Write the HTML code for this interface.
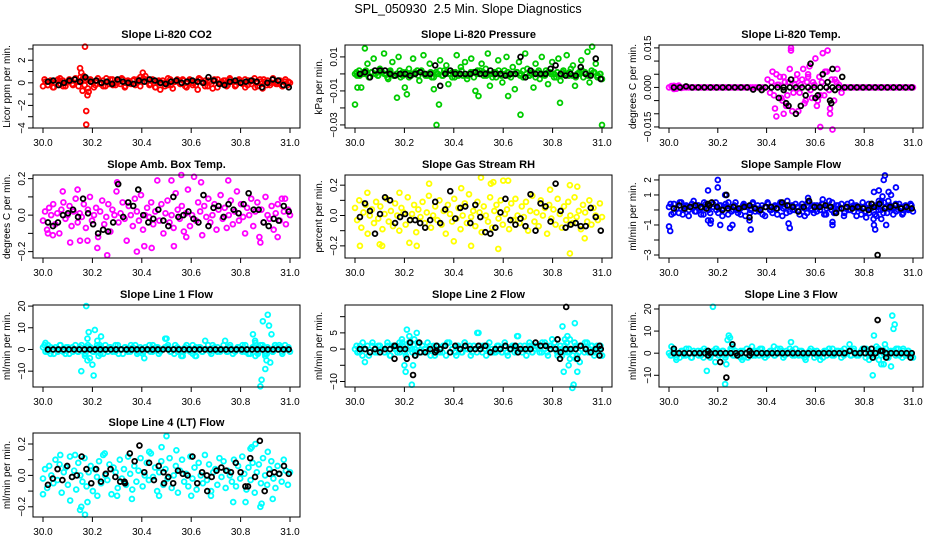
<!DOCTYPE html>
<html><head><meta charset="utf-8">
<style>
html,body{margin:0;padding:0;background:#fff;}
svg{display:block;font-family:"Liberation Sans",Arial,sans-serif;}
</style></head>
<body>
<svg id="chart" width="936" height="540" viewBox="0 0 936 540">
<text x="468" y="13" text-anchor="middle" font-size="12.5">SPL_050930&#160;&#160;2.5 Min. Slope Diagnostics</text>
</svg>
<script>
// ---------- data ----------
const xTicks = [30.0, 30.2, 30.4, 30.6, 30.8, 31.0];
const xTickLabels = ["30.0", "30.2", "30.4", "30.6", "30.8", "31.0"];

// Panel 1: Li-820 CO2 (ppm/min)
const co2Main = [-0.3,0.1,-0.2,0.2,-0.4,0.0,0.3,-0.1,0.2,-0.3,0.1,0.2,-0.2,0.3,0.1,0.5,0.4,0.2,-0.5,0.3,0.0,-0.2,0.4,-0.1,0.2,-0.3,0.1,0.3,-0.2,0.0,0.2,-0.1,0.3,-0.3,0.1,0.0,0.2,-0.2,0.3,0.5,0.9,0.6,0.3,-0.1,0.2,-0.4,0.1,-0.6,0.2,0.0,-0.2,0.3,-0.5,0.1,0.2,-0.1,0.3,-0.3,0.0,0.2,-0.2,0.1,-0.6,0.3,0.0,0.2,-0.3,0.1,-0.5,0.2,0.3,-0.1,0.0,0.2,-0.2,0.3,0.1,-0.3,0.2,0.0,-0.1,0.3,-0.2,0.1,0.2,-0.4,0.0,0.3,-0.5,0.1,0.2,-0.2,0.3,0.0,-0.1,0.2,-0.3,0.1,-0.2,0.0];
const co2Band = [0.3,-0.2,0.1,-0.4,0.2,0.4,-0.3,0.0,0.3,-0.1,0.4,-0.3,0.2,-0.2,0.3,0.1,-0.4,0.2,0.0,-0.3,0.4,-0.1,0.3,-0.2,0.1,0.4,-0.4,0.2,-0.1,0.3,0.0,-0.3,0.4,0.1,-0.2,0.3,-0.4,0.2,0.0,-0.3,0.4,-0.2,0.1,0.3,-0.1,0.2,-0.4,0.3,0.0,-0.2,0.4,0.1,-0.3,0.2,-0.1,0.3,-0.4,0.0,0.2,-0.3,0.4,0.1,-0.2,0.3,0.0,-0.4,0.2,-0.1,0.4,-0.3,0.1,0.3,-0.2,0.0,0.4,-0.1,0.2,-0.3,0.3,0.1];
const co2ExtraX = [30.17,30.175,30.175,30.15,30.18,30.165,30.155,30.16,30.185];
const co2ExtraY = [3.2,-2.5,-3.7,1.3,-1.1,0.6,0.9,-0.7,-0.8];
const co2Black = [0.1,0.2,-0.2,0.0,0.2,0.3,0.1,0.5,0.1,0.2,0.0,0.1,-0.1,0.3,0.1,0.0,-0.1,0.2,0.1,0.3,0.2,0.0,-0.1,0.1,0.2,0.0,0.1,0.2,0.1,0.0,0.5,0.2,-0.1,-0.2,0.1,0.2,0.0,0.1,0.2,0.1,-0.4,0.0,0.3,0.2,-0.2,-0.4];
const co2BlackX = [], co2BlackY = [];

// Panel 2: Li-820 Pressure (units of 0.001 kPa/min)
const presMain = [0,-1,2,-8,1,0,6,-2,1,9,0,-1,3,1,12,0,-3,2,7,-1,0,10,-2,1,-8,0,3,-1,9,0,2,-4,1,11,-1,0,6,-2,-9,1,0,8,-1,2,5,-6,0,1,-2,11,0,4,-1,7,-3,0,9,1,-10,2,0,6,-1,3,12,-7,0,1,-2,8,0,-5,2,10,-1,0,4,-9,1,7,0,-2,12,3,-1,0,-8,6,1,-3,10,0,2,-6,1,7,0,-2,9,-4,1,0,11,-1,3,5,-7,0,1,8,-2,0,13,-5,2,1,6,-1,0,-3];
const presBand = [1,-1,0,2,-2,1,0,-1,2,0,-2,1,-1,0,2,-1,1,-2,0,1,-1,2,0,-1,1,-2,0,2,-1,1,0,-2,1,-1,2,0,-1,1,-2,0,2,1,-1,0,-2,1,2,-1,0,1,-2,0,1,-1,2,0,-1,1,-2,2,0,-1,1,0,-2,1,-1,2,0,1,-1,-2,0,2,1,-1,0,1,-2,0];
const presExtraX = [30.0,30.04,30.17,30.33,30.34,30.67,30.83,30.62,30.50,31.0,30.96,30.21,30.01];
const presExtraY = [-18,15,-14,-30,-18,-24,-17,-13,-13,-30,16,-12,-8];
const presBlack = [0,1,-2,2,2,2,0,-1,0,0,-1,0,1,0,0,5,-7,0,2,0,0,0,0,1,0,0,2,0,0,-1,0,0,10,-2,2,0,0,0,3,5,0,-1,0,-1,4,0,-1,9,-3];
const presBlackX = [], presBlackY = [];

// Panel 3: Li-820 Temp (units of 0.001 degC/min)
const ltempMain = [0,0.5,-0.6,0.4,0.3,-0.2,0,0,0,0,0,0,0,0,0,0,0,0,0,0,0,0,0,0,0,0,0,0,0,0,0,0,0,0,0,0,0,0,0,0,3,-2,6,-8,1,4,-5,2,-3,7,-9,1,5,-2,3,-6,2,8,-4,1,-7,4,2,-3,6,-1,3,-5,2,1,-2,0,0,0,0,0,0,0,0,0,0,0,0,0,0,0,0,0,0,0,0,0,0,0,0,0,0,0,0,0];
const ltempBand = [];
const ltempExtraX = [30.42,30.43,30.44,30.45,30.46,30.47,30.48,30.49,30.50,30.51,30.52,30.53,30.54,30.55,30.56,30.57,30.58,30.59,30.60,30.61,30.62,30.63,30.64,30.65,30.66,30.67,30.68,30.69,30.50,30.62,30.66,30.44,30.47,30.57,30.02,30.03,30.04];
const ltempExtraY = [2,-3,5,1,-4,4,-7,2,15,-2,3,-9,1,7,-5,4,-1,2,11,-5,-15,13,6,14,-10,-16,3,7,14,-3,-8,-11,-10,5,0.6,-0.5,0.7];
const ltempBlack = [0,0,0.4,0,0,0,0,0,0,0,0,0,0,-0.8,0,0,0,0,0,0,0,0,0,0,0,0,0,0,0,0,0,0,0,0,0,0,0,0,0,0];
const ltempBlackX = [30.45,30.47,30.48,30.49,30.5,30.52,30.54,30.56,30.58,30.6,30.61,30.63,30.65,30.66,30.665,30.67,30.68,30.71,30.38];
const ltempBlackY = [-4,-1,-6,-7,3,-10,-7,-3,9,-4,-3,5,2,-5,-6,7,-1,4,-1];

// Panel 4: Amb. Box Temp (units 0.01 degC/min)
const boxMain = [-3,2,-8,4,0,6,-5,1,-10,3,7,-2,0,5,-6,2,9,-4,1,-1,6,-7,3,10,-3,0,4,-12,2,8,-5,-1,6,-9,3,0,13,-4,1,7,-2,-14,5,0,-6,9,2,-3,11,-8,0,4,-1,7,-5,2,19,-3,6,-10,1,8,-4,0,-7,12,3,-2,5,-9,1,14,-6,0,21,-3,7,2,-11,5,-1,9,-4,0,6,-8,3,11,-2,4,-7,0,8,-5,2,13,-3,6,-1,-10,4,0,9,-6,2,7,-12,3,-4,10,0,-2,5,-8,1,6,-3,9,2,-5,3,0];
const boxBand = [];
const boxExtraX = [30.02,30.04,30.11,30.15,30.18,30.22,30.26,30.3,30.38,30.41,30.44,30.53,30.52,30.56,30.58,30.64,30.75,30.88,30.95,30.98,30.08,30.14];
const boxExtraY = [-10,-11,-15,-14,-14,-18,-22,18,-20,-17,-18,-17,19,22,-12,18,19,-15,-12,9,13,14];
const boxBlack = [-4,-6,-4,0,1,3,-1,9,1,-5,-10,-8,-9,-4,17,-1,7,5,14,0,-4,-2,3,-3,-6,10,-1,0,2,-2,-4,11,-6,4,5,-1,6,3,1,6,12,3,3,-4,-6,-2,-3,5,2];
const boxBlackX = [], boxBlackY = [];

// Panel 5: Gas Stream RH (units 0.01 %/min)
const rhMain = [5,-3,10,-8,2,7,-12,0,4,-5,9,-2,6,-9,1,11,-4,3,-7,8,0,-10,5,2,-6,12,-3,1,7,-11,4,-1,9,-5,2,13,-8,0,6,-3,10,-6,3,-12,7,1,-4,11,-2,5,-9,0,8,-5,14,-1,3,-7,9,2,-11,6,0,-4,12,-8,3,7,-2,10,-6,1,4,-9,8,-3,11,0,-5,6,-1,9,-10,3,13,-4,2,-7,10,0,5,-12,7,-2,4,-6,11,1,-8,6,-3,9,0,-5,12,-1,3,-9,7,2,-4,10,-6,5,0,-3,8,-1];
const rhBand = [];
const rhExtraX = [30.02,30.1,30.11,30.22,30.25,30.3,30.4,30.47,30.51,30.55,30.56,30.58,30.6,30.62,30.87,30.87,30.9,30.93,30.05,30.18,30.43,30.79];
const rhExtraY = [-20,-19,-20,-18,-20,21,-17,-20,25,21,22,-22,23,23,-25,20,19,-15,15,15,18,17];
const rhBlack = [-1,8,3,-12,1,12,10,-5,-1,1,-3,-3,-5,-8,-3,9,-5,4,16,-2,5,6,-5,7,-1,-11,-12,-8,2,11,-3,-6,-2,-7,14,-10,8,6,-4,21,3,-8,-6,-5,-7,-7,5,-1,-10];
const rhBlackX = [], rhBlackY = [];

// Panel 6: Sample Flow (ml/min per min)
const sfMain = [0.2,-0.3,0.4,0.1,-0.2,0.5,0.0,0.3,-0.4,0.2,0.6,-0.1,0.3,0.1,-0.3,0.4,0.0,-0.7,0.2,0.5,-0.2,0.3,0.1,0.4,-0.3,0.2,0.0,0.5,-0.2,0.1,0.3,-0.4,0.2,0.0,0.4,-0.1,0.3,0.1,-0.3,0.2,0.5,0.0,-0.2,0.3,0.1,0.4,-0.4,0.2,0.6,-0.1,0.3,0.0,0.2,-0.3,0.4,0.1,-0.2,0.5,0.0,0.3,-0.1,0.2,0.4,-0.3,0.1,0.6,0.0,-0.2,0.3,0.1,0.4,-0.4,0.2,0.0,0.5,-0.1,0.3,0.1,-0.3,0.2,-0.5,0.4,0.1,-0.6,0.3,0.0,0.5,-0.2,0.2,0.6,0.1,-0.3,0.4,0.0,0.2,-0.2,0.3,0.1,0.4,-0.1];
const sfBand = [0.4,-0.2,0.1,0.5,-0.3,0.2,0.0,0.4,-0.1,0.3,-0.3,0.5,0.1,-0.2,0.4,0.0,0.3,-0.4,0.2,0.5,-0.1,0.3,0.0,-0.3,0.4,0.2,-0.2,0.5,0.1,-0.1,0.3,-0.4,0.4,0.0,0.2,-0.3,0.5,0.1,-0.2,0.3,0.0,0.4,-0.1,0.2,-0.4,0.5,0.1,-0.2,0.3,0.0,0.4,-0.3,0.2,0.5,-0.1,0.3,0.1,-0.2,0.4,0.0,0.3,-0.4,0.2,0.5,-0.1,0.1,0.4,-0.3,0.2,0.0,0.5,-0.2,0.3,0.1,-0.1,0.4,-0.3,0.2,0.0,0.3];
const sfExtraX = [30.0,30.005,30.16,30.17,30.16,30.2,30.2,30.21,30.23,30.235,30.25,30.26,30.33,30.335,30.49,30.495,30.57,30.63,30.67,30.67,30.82,30.84,30.84,30.845,30.86,30.87,30.875,30.88,30.885,30.89,30.9,30.91,30.93,30.85,30.86];
const sfExtraY = [-1.1,-1.4,-0.7,-0.9,1.3,1.5,2.0,-1.0,1.0,1.0,-1.2,-1.0,-0.7,-1.3,-0.9,-1.2,0.8,0.7,-1.0,-0.8,-0.2,1.2,-1.0,-1.3,1.3,-0.6,0.9,2.0,2.3,-1.0,1.2,1.0,1.5,-0.4,0.6];
const sfBlack = [0.1,0.3,0.1,0.2,0.3,0.2,0.1,0.5,0.2,0.0,0.1,0.2,0.1,0.2,0.3,0.1,0.0,0.2,0.2,0.1,0.5,0.3,0.2,-0.1,0.2,0.6,0.2,0.2,0.3,0.2,-0.2,0.1,0.2,0.1,0.2,0.1,0.0,0.2,0.4,0.1,0.2,0.3,0.1,0.2,0.1];
const sfBlackX = [30.855,30.83,30.33,30.165,30.235,30.16];
const sfBlackY = [-3.0,0.4,-0.5,0.3,1.0,0.4];

// Panel 7: Line 1 Flow
const l1Main = [1,-1,2,-2,0,1,-1,2,0,-2,1,0,-1,2,-1,1,0,-2,2,1,-1,0,1,-2,0,2,-1,1,0,-1,2,0,-2,1,0,-1,1,2,-1,0,-2,1,0,-1,2,0,1,-1,0,5,1,-1,0,2,-1,0,-3,1,0,-1,2,-3,0,1,-1,4,0,-1,2,0,1,-1,0,4,-1,2,0,-1,1,0,2,-1,0,-2,1,4,-1,0,2,-2,1,0,-1,2,0,1,-1,2,0,-1];
const l1Band = [2,-1,1,-2,0,2,-1,1,-2,1,0,-1,2,-2,1,0,-1,2,1,-2,0,1,-1,2,-2,0,1,-1,2,0,-2,1,-1,0,2,-1,1,-2,0,1,2,-1,-2,1,0,-1,2,0,-2,1,1,-1,0,2,-2,1,-1,0,2,-1,1,-2,0,1,-1,2,-2,0,1,-1,2,1,-2,0,-1,1,2,-2,0,1];
const l1ExtraX = [30.155,30.17,30.175,30.18,30.185,30.19,30.2,30.205,30.21,30.22,30.23,30.225,30.235,30.18,30.41,30.5,30.56,30.62,30.85,30.86,30.86,30.87,30.88,30.885,30.89,30.9,30.905,30.91,30.915,30.92,30.925,30.9,30.93,30.94,30.01];
const l1ExtraY = [-10,-3,20,5,8,-4,-7,-12,9,4,2,-3,6,-5,-4,5,-3,-3,7,3,-3,-2,-17,-14,13,-9,-5,16,11,-6,7,-3,-1,2,3];
const l1Black = [0,0,0,0,0,0,0,0,0,0,0,0,0,0,0,0,0,0,0,0,0,0,0,0,0,0,0,0,0,0,0,0,0,0,0,0,0,0,0,0,0,0,0,0,0,0,0];
const l1BlackX = [], l1BlackY = [];

// Panel 8: Line 2 Flow
const l2Main = [0,-1,1,-2,0,1,-1,2,0,-1,1,0,-1,1,-2,1,0,-1,1,2,-1,0,1,-1,0,2,-1,1,0,-1,1,0,-2,1,0,-1,1,2,-1,0,-1,1,0,-1,2,0,1,-1,0,5,1,-1,0,1,-1,0,-1,1,0,-1,1,-1,0,1,-1,4,0,-1,1,0,1,-1,0,1,-1,2,0,-1,1,3,2,-1,0,-2,1,2,-1,0,2,-2,1,0,-1,2,0,1,-1,1,0,-2];
const l2Band = [1,-1,2,0,-2,1,-1,1,0,-1,2,-2,1,0,-1,1,-2,2,0,-1,1,-1,0,2,-2,1,0,-1,1,-2,2,0,-1,1,-1,2,0,-2,1,-1,0,1,-2,2,-1,0,1,-1,2,-2,0,1,-1,1,0,-2,2,-1,1,0,-1,2,-2,1,0,-1,1,-1,2,0,-2,1,-1,0,2,-1,1,-2,0,1];
const l2ExtraX = [30.01,30.04,30.18,30.19,30.2,30.205,30.21,30.22,30.225,30.23,30.235,30.24,30.25,30.255,30.245,30.41,30.5,30.57,30.66,30.82,30.84,30.845,30.85,30.86,30.865,30.87,30.88,30.885,30.89,30.895,30.9,30.91,30.87,30.86,31.0];
const l2ExtraY = [-1,-4,2,3,-5,-7,6,4,2,-11,-5,3,5,1,-2,-2,5,-1,4,-2,7,-7,3,4,-5,-3,-12,-11,8,-3,-7,-4,3,-1,-2];
const l2Black = [0,0,-1,0,-1,0,0,1,0,0,2,-2,-1,-1,0,-1,0,1,-1,1,0,1,0,0,0,1,-1,0,0,1,0,1,0,0,0,2,1,1,0,0,-1,0,0,0,1,0,-1,0,0];
const l2BlackX = [30.16,30.16,30.21,30.235,30.26,30.33,30.33,30.82,30.83,30.855,30.9,30.99,30.99,30.5,30.66];
const l2BlackY = [-3,1,-3,-8,2,1,-0.5,3,-3,13,-3,1,-2,1,-1];

// Panel 9: Line 3 Flow
const l3Main = [0,-1,1,-2,0,1,-1,2,0,-2,1,0,-1,1,-2,1,0,-1,1,2,-1,0,1,-1,0,2,-1,1,0,-2,1,0,-2,1,0,-1,1,2,-1,0,-1,1,0,-1,2,0,1,-1,0,2,1,-1,0,1,-1,0,-1,1,0,-2,1,-1,0,1,-1,2,0,-1,1,0,1,-1,0,1,-1,2,0,-1,1,0,2,-1,0,-2,1,2,-1,0,2,-2,1,0,-1,2,0,1,-1,1,0,-2];
const l3Band = [-1,2,0,-2,1,-1,2,-2,0,1,-1,2,1,-2,0,2,-1,1,-2,0,2,-1,0,1,-2,2,0,-1,1,-1,2,-2,0,1,-1,0,2,-2,1,0,-1,2,-1,1,-2,0,2,1,-1,0,-2,1,2,-1,0,1,-2,2,0,-1,1,-1,0,2,-2,1,-1,0,2,-1,1,-2,0,1,2,-1,-2,0,1,-1];
const l3ExtraX = [30.01,30.03,30.155,30.16,30.18,30.19,30.2,30.23,30.235,30.24,30.245,30.25,30.26,30.3,30.34,30.43,30.5,30.56,30.62,30.67,30.74,30.82,30.835,30.84,30.85,30.86,30.87,30.88,30.885,30.91,30.915,30.92,30.925,30.96];
const l3ExtraY = [3,-3,-8,1,21,-4,1,-14,-5,6,8,7,3,-3,3,3,5,-3,-3,2,4,-3,-10,8,3,-3,-5,-5,4,-6,17,11,13,2];
const l3Black = [0,0,0,0,0,0,0,0,0,0,0,0,0,0,0,0,0,0,0,0,0,0,0,0,0,0,0,0,0,0,0,0,0,0,1,0,0,0,0,0,1,0,0,0,0,0,0];
const l3BlackX = [30.02,30.16,30.16,30.21,30.235,30.26,30.83,30.835,30.855,30.875,30.89,30.99,30.8,30.33,30.33,30.28];
const l3BlackY = [2,1,-1,-4,-11,4,2,-2,15,1,-2,-2,2,1,-1,-1];

// Panel 10: Line 4 (LT) Flow (units 0.01)
const l4Main = [-2,4,-8,6,0,-5,10,-3,7,-11,2,5,-6,12,-1,3,-9,8,0,-4,11,-7,2,6,-10,4,-1,9,-5,13,0,-3,7,-12,5,2,-8,10,-2,4,-6,12,1,-9,6,-4,3,11,-7,0,8,-3,14,-1,5,-10,2,9,-6,4,-2,11,-8,0,6,-11,3,10,-4,1,-7,12,-2,5,-9,8,0,-5,13,-3,7,-10,2,4,-6,11,-1,9,-8,3,0,-4,10,-7,6,-2,12,1,-9,5,-3,8,-11,2,7,-5,11,0,-6,4,9,-2,-8,6,1,-4,10,3,-6,2];
const l4Band = [];
const l4ExtraX = [30.0,30.11,30.15,30.155,30.17,30.18,30.22,30.3,30.36,30.43,30.47,30.48,30.5,30.54,30.6,30.68,30.77,30.82,30.84,30.845,30.86,30.88,30.885,30.91,30.93,30.13,30.25,30.07];
const l4ExtraY = [-12,-16,-22,-20,-25,-17,-13,-13,-15,15,-13,18,25,16,-13,-13,-17,-17,17,18,20,-20,-18,15,-15,13,14,13];
const l4Black = [-6,-2,4,-3,6,-1,0,12,4,-5,4,-4,1,4,-1,-4,-5,14,9,19,2,8,-3,6,2,-1,-5,3,1,0,12,-5,2,0,-1,3,5,3,2,8,2,-7,11,-1,22,-10,1,2,1,6,1];
const l4BlackX = [30.49,30.665,30.83,30.33];
const l4BlackY = [-5,-10,-7,-4];

// ---------- panel layout ----------
const panels = [
 {name:"co2", title:"Slope Li-820 CO2", ylab:"Licor ppm per min.", col:"#ff0000", box:[33,45,300,128], ylim:[-4.0,3.35], unit:1,
  yt:[-4,-3,-2,-1,0,1,2,3], yl:{"-4":"\u22124","-2":"\u22122","0":"0","2":"2"}, main:co2Main, band:co2Band, ex:co2ExtraX, ey:co2ExtraY, bl:co2Black, bx:co2BlackX, by:co2BlackY},
 {name:"pressure", title:"Slope Li-820 Pressure", ylab:"kPa per min.", col:"#00cc00", box:[345,45,612,128], ylim:[-0.0318,0.017], unit:0.001,
  yt:[-0.03,-0.02,-0.01,0,0.01], yl:{"-0.03":"\u22120.03","-0.01":"\u22120.01","0.01":"0.01"}, main:presMain, band:presBand, ex:presExtraX, ey:presExtraY, bl:presBlack, bx:presBlackX, by:presBlackY},
 {name:"li820-temp", title:"Slope Li-820 Temp.", ylab:"degrees C per min.", col:"#ff00ff", box:[659,45,923,128], ylim:[-0.0154,0.0161], unit:0.001,
  yt:[-0.015,-0.01,-0.005,0,0.005,0.01,0.015], yl:{"-0.015":"\u22120.015","0":"0.000","0.015":"0.015"}, main:ltempMain, band:ltempBand, ex:ltempExtraX, ey:ltempExtraY, bl:ltempBlack, bx:ltempBlackX, by:ltempBlackY},
 {name:"amb-box-temp", title:"Slope Amb. Box Temp.", ylab:"degrees C per min.", col:"#ff00ff", box:[33,175,300,258], ylim:[-0.235,0.22], unit:0.01,
  yt:[-0.2,-0.1,0,0.1,0.2], yl:{"-0.2":"\u22120.2","0":"0.0","0.2":"0.2"}, main:boxMain, band:boxBand, ex:boxExtraX, ey:boxExtraY, bl:boxBlack, bx:boxBlackX, by:boxBlackY},
 {name:"gas-stream-rh", title:"Slope Gas Stream RH", ylab:"percent per min.", col:"#ffff00", box:[345,175,612,258], ylim:[-0.28,0.267], unit:0.01,
  yt:[-0.2,-0.1,0,0.1,0.2], yl:{"-0.2":"\u22120.2","0":"0.0","0.2":"0.2"}, main:rhMain, band:rhBand, ex:rhExtraX, ey:rhExtraY, bl:rhBlack, bx:rhBlackX, by:rhBlackY},
 {name:"sample-flow", title:"Slope Sample Flow", ylab:"ml/min per min.", col:"#0000ff", box:[659,175,923,258], ylim:[-3.2,2.33], unit:1,
  yt:[-3,-2,-1,0,1,2], yl:{"-3":"\u22123","-1":"\u22121","1":"1","2":"2"}, main:sfMain, band:sfBand, ex:sfExtraX, ey:sfExtraY, bl:sfBlack, bx:sfBlackX, by:sfBlackY},
 {name:"line1-flow", title:"Slope Line 1 Flow", ylab:"ml/min per min.", col:"#00ffff", box:[33,305,300,387], ylim:[-17.3,20.5], unit:1,
  yt:[-10,0,10,20], yl:{"-10":"\u221210","0":"0","10":"10","20":"20"}, main:l1Main, band:l1Band, ex:l1ExtraX, ey:l1ExtraY, bl:l1Black, bx:l1BlackX, by:l1BlackY},
 {name:"line2-flow", title:"Slope Line 2 Flow", ylab:"ml/min per min.", col:"#00ffff", box:[345,305,612,387], ylim:[-11.7,13.6], unit:1,
  yt:[-10,-5,0,5,10], yl:{"-10":"\u221210","0":"0","5":"5"}, main:l2Main, band:l2Band, ex:l2ExtraX, ey:l2ExtraY, bl:l2Black, bx:l2BlackX, by:l2BlackY},
 {name:"line3-flow", title:"Slope Line 3 Flow", ylab:"ml/min per min.", col:"#00ffff", box:[659,305,923,387], ylim:[-15.3,21.8], unit:1,
  yt:[-10,0,10,20], yl:{"-10":"\u221210","0":"0","10":"10","20":"20"}, main:l3Main, band:l3Band, ex:l3ExtraX, ey:l3ExtraY, bl:l3Black, bx:l3BlackX, by:l3BlackY},
 {name:"line4-flow", title:"Slope Line 4 (LT) Flow", ylab:"ml/min per min.", col:"#00ffff", box:[33,433,300,517], ylim:[-0.265,0.27], unit:0.01,
  yt:[-0.2,-0.1,0,0.1,0.2], yl:{"-0.2":"\u22120.2","0":"0.0","0.2":"0.2"}, main:l4Main, band:l4Band, ex:l4ExtraX, ey:l4ExtraY, bl:l4Black, bx:l4BlackX, by:l4BlackY}
];

const NS = "http://www.w3.org/2000/svg";
const svg = document.getElementById("chart");
function mk(tag, attrs, parent) {
  const e = document.createElementNS(NS, tag);
  for (const k in attrs) e.setAttribute(k, attrs[k]);
  parent.appendChild(e);
  return e;
}

panels.forEach(p => {
  const [x0, y0, x1, y1] = p.box;
  const g = mk("g", {}, svg);
  
  
  const sx = v => (x0 + 10) + (v - 30) * ((x1 - 10) - (x0 + 10));
  const sy = v => y1 - (v - p.ylim[0]) / (p.ylim[1] - p.ylim[0]) * (y1 - y0);

  const t = mk("text", {x: (x0 + x1) / 2, y: y0 - 7, "text-anchor": "middle", "font-size": "11", "font-weight": "bold"}, g);
  t.textContent = p.title;
  
  

  const yl = mk("text", {x: 0, y: 0, "text-anchor": "middle", "font-size": "10", transform: `translate(${x0 - 23},${(y0 + y1) / 2}) rotate(-90)`}, g);
  yl.textContent = p.ylab;
  
  

  const pts = mk("g", {fill: "none", "stroke-width": "1.8"}, g);
  
  
  const n = p.main.length;
  p.main.forEach((v, i) => {
    const c = mk("circle", {cx: sx(30 + i / (n - 1)), cy: sy(v * p.unit), r: 2.4, stroke: p.col}, pts);
    
    
  });
  const nbd = p.band.length;
  p.band.forEach((v, i) => {
    const c = mk("circle", {cx: sx(30 + (i + 0.5) / nbd), cy: sy(v * p.unit), r: 2.4, stroke: p.col}, pts);
    
    
  });
  p.ex.forEach((xv, i) => {
    const c = mk("circle", {cx: sx(xv), cy: sy(p.ey[i] * p.unit), r: 2.4, stroke: p.col}, pts);
    
    
  });
  const nb = p.bl.length;
  p.bl.forEach((v, i) => {
    const c = mk("circle", {cx: sx(30.02 + 0.975 * i / (nb - 1)), cy: sy(v * p.unit), r: 2.4, stroke: "#000"}, pts);
    
    
  });
  p.bx.forEach((xv, i) => {
    const c = mk("circle", {cx: sx(xv), cy: sy(p.by[i] * p.unit), r: 2.4, stroke: "#000"}, pts);
    
    
  });

  const b = mk("rect", {x: x0, y: y0, width: x1 - x0, height: y1 - y0, fill: "none", stroke: "#000", "stroke-width": "1"}, g);
  
  

  const xa = mk("g", {}, g);
  
  
  xTicks.forEach((v, i) => {
    mk("line", {x1: sx(v), x2: sx(v), y1: y1, y2: y1 + 5, stroke: "#000"}, xa);
    const tl = mk("text", {x: sx(v), y: y1 + 18, "text-anchor": "middle", "font-size": "10"}, xa);
    tl.textContent = xTickLabels[i];
    
    
  });

  const ya = mk("g", {}, g);
  
  
  p.yt.forEach(v => {
    const yy = sy(v);
    mk("line", {x1: x0 - 5, x2: x0, y1: yy, y2: yy, stroke: "#000"}, ya);
    const key = String(v);
    if (p.yl[key] !== undefined) {
      const tl = mk("text", {x: 0, y: 0, "text-anchor": "middle", "font-size": "10", transform: `translate(${x0 - 8},${yy}) rotate(-90)`}, ya);
      tl.textContent = p.yl[key];
      
      
    }
  });
});
</script>
</body></html>
